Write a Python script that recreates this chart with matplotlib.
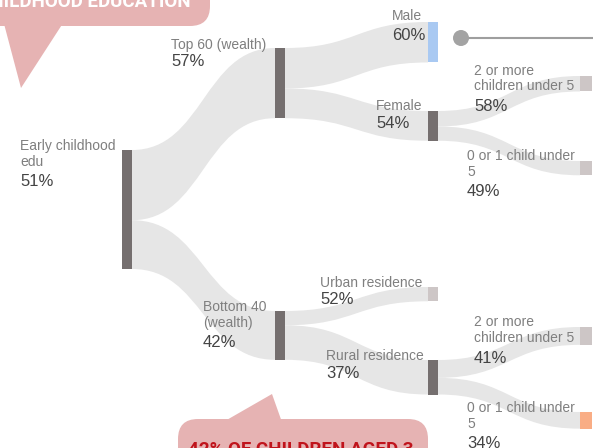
import numpy as np
import matplotlib
matplotlib.use("Agg")
import matplotlib.pyplot as plt
from matplotlib.path import Path
from matplotlib.patches import PathPatch, Rectangle, FancyBboxPatch, Polygon, Circle

# tree data: name, share of the root group, percent in early childhood education
names = ["Early childhood\nedu", "Top 60 (wealth)", "Bottom 40\n(wealth)",
         "Male", "Female", "Urban residence", "Rural residence",
         "2 or more\nchildren under 5", "0 or 1 child under\n5",
         "2 or more\nchildren under 5", "0 or 1 child under\n5"]
pct = [51, 57, 42, 60, 54, 52, 37, 58, 49, 41, 34]
share = [1.0, 0.59, 0.41, 0.34, 0.25, 0.12, 0.29, 0.13, 0.12, 0.15, 0.14]
parent = [None, 0, 0, 1, 1, 2, 2, 4, 4, 6, 6]

# layout (pixels)
col = [0, 1, 1, 2, 2, 2, 2, 3, 3, 3, 3]
col_x = [122, 275, 428, 580]
col_w = [10, 10, 10, 12]
node_top = [150, 48, 311, 22, 111, 287, 360, 76, 161, 327, 412]
scale = 119
label_x = [20, 171, 203, 392, 376, 320, 326, 474, 467, 474, 467]
label_bl = [150, 49, 311, 20, 110, 287, 360, 75, 160, 326, 412]
pct_bl = [186, 66, 347, 40, 128, 304, 378, 111, 196, 363, 448]

dark = "#756f6f"
leaf = "#cdc6c6"
node_color = [dark, dark, dark, "#a9c9f2", dark, leaf, dark, leaf, leaf, leaf, "#f9ad85"]
link_color = "#e6e6e6"
pink = "#e6b3b3"
FONT = "Liberation Sans"
BOLD = ["Liberation Sans Narrow", "Roboto"]

fig = plt.figure(figsize=(5.93, 4.48), dpi=100)
ax = fig.add_axes([0, 0, 1, 1])
ax.set_xlim(0, 593)
ax.set_ylim(448, 0)
ax.axis("off")

heights = [s * scale for s in share]


def link(x0, a0, b0, x1, a1, b1):
    xm = (x0 + x1) / 2
    verts = [(x0, a0), (xm, a0), (xm, a1), (x1, a1), (x1, b1),
             (xm, b1), (xm, b0), (x0, b0), (x0, a0)]
    codes = [Path.MOVETO, Path.CURVE4, Path.CURVE4, Path.CURVE4, Path.LINETO,
             Path.CURVE4, Path.CURVE4, Path.CURVE4, Path.CLOSEPOLY]
    return PathPatch(Path(verts, codes), fc=link_color, ec="none", zorder=1)


# links
offset = {}
for i, p in enumerate(parent):
    if p is None:
        continue
    y0 = node_top[p] + offset.get(p, 0)
    offset[p] = offset.get(p, 0) + heights[i]
    x0 = col_x[col[p]] + col_w[col[p]]
    x1 = col_x[col[i]]
    ax.add_patch(link(x0, y0, y0 + heights[i], x1, node_top[i], node_top[i] + heights[i]))

# nodes
for i in range(len(names)):
    ax.add_patch(Rectangle((col_x[col[i]], node_top[i]), col_w[col[i]], heights[i],
                           fc=node_color[i], ec="none", zorder=2))

# labels
for i, name in enumerate(names):
    for k, line in enumerate(name.split("\n")):
        ax.text(label_x[i], label_bl[i] + 15.5 * k, line, fontsize=10, color="#7f7f7f",
                family=FONT, va="baseline", ha="left", zorder=3)
    ax.text(label_x[i], pct_bl[i], f"{pct[i]}%", fontsize=12, color="#444444",
            family=FONT, va="baseline", ha="left", zorder=3)

# slider marker next to Male
ax.plot([461, 600], [38, 38], color="#9e9e9e", lw=1.5, zorder=2, clip_on=False)
ax.add_patch(Circle((461, 38), 8, fc="#a3a3a3", ec="none", zorder=3))

# callouts
ax.add_patch(FancyBboxPatch((-40, -60), 250, 86, boxstyle="round,pad=0,rounding_size=20",
                            fc=pink, ec="none", zorder=4))
ax.add_patch(Polygon([(3, 20), (65, 20), (21, 88)], closed=True, fc=pink, ec="none", zorder=4))
ax.text(191, 7, "CHILDHOOD EDUCATION", fontsize=13.5, fontweight="bold", color="white",
        family=BOLD, ha="right", va="baseline", zorder=5)

ax.add_patch(FancyBboxPatch((178, 419), 250, 70, boxstyle="round,pad=0,rounding_size=20",
                            fc=pink, ec="none", zorder=4))
ax.add_patch(Polygon([(218, 425), (283, 425), (272, 394)], closed=True, fc=pink, ec="none", zorder=4))
ax.text(188, 455, "42% OF CHILDREN AGED 3", fontsize=13.5, fontweight="bold", color="#c0141c",
        family=BOLD, ha="left", va="baseline", zorder=5)

fig.savefig("out.png", dpi=100)
